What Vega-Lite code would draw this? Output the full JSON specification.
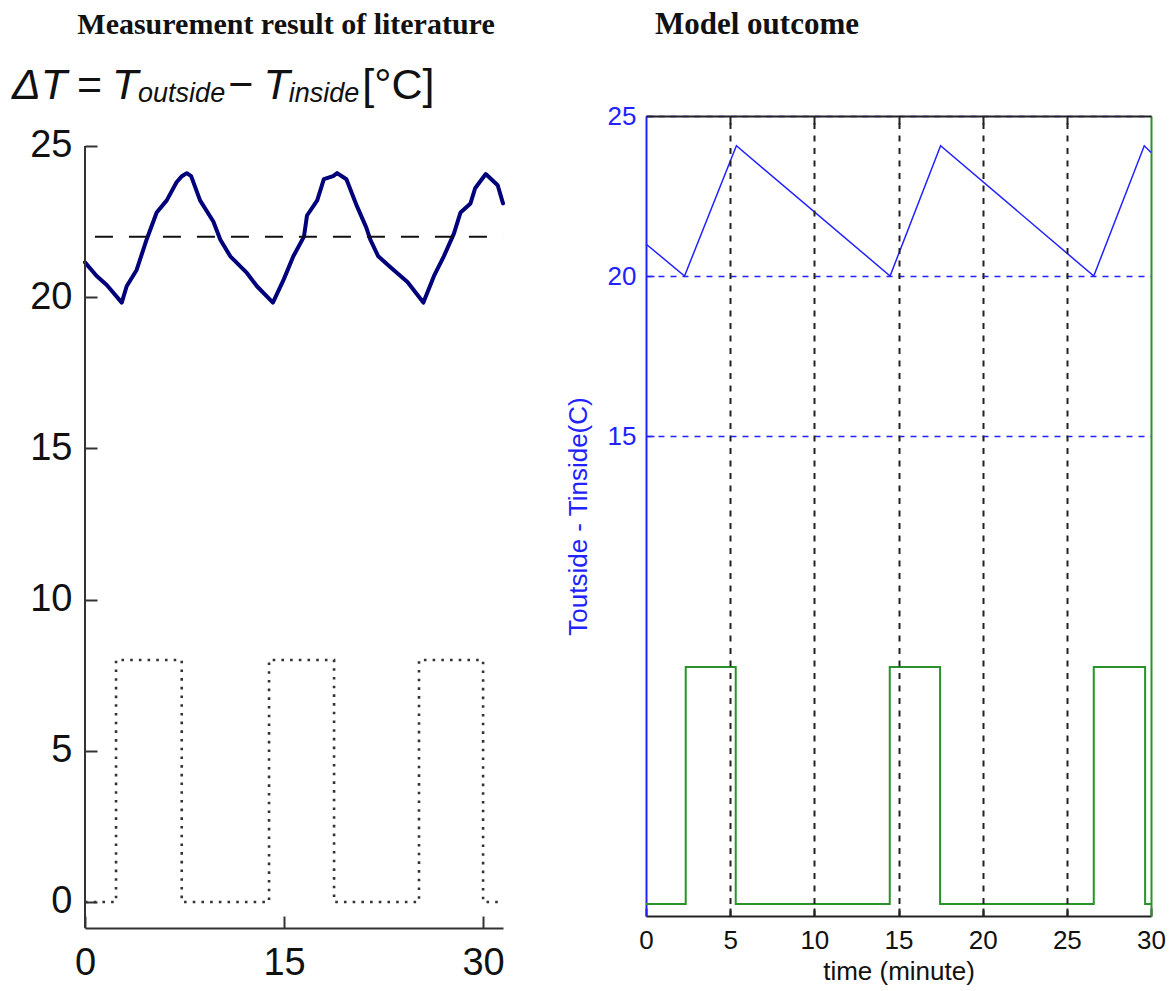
{
  "$schema": "https://vega.github.io/schema/vega-lite/v6.json",
  "background": "white",
  "padding": {"left": 12, "top": 9, "right": 6, "bottom": 2},
  "config": {"view": {"stroke": null}, "font": "Liberation Sans"},
  "spacing": 56,
  "hconcat": [
    {
      "width": 418,
      "height": 812,
      "title": {"text": "Measurement result of literature", "font": "Liberation Serif", "fontSize": 30, "fontWeight": "bold", "color": "#111", "frame": "group", "anchor": "middle", "dx": -8, "offset": 25},
      "layer": [
        {
          "data": {"values": [
            {"t": 0, "v": 21.15}, {"t": 0.88, "v": 20.7}, {"t": 1.64, "v": 20.4}, {"t": 2.77, "v": 19.82},
            {"t": 3.14, "v": 20.36}, {"t": 3.89, "v": 20.9}, {"t": 4.64, "v": 21.9}, {"t": 5.4, "v": 22.8},
            {"t": 6.16, "v": 23.2}, {"t": 6.9, "v": 23.8}, {"t": 7.3, "v": 24.0}, {"t": 7.67, "v": 24.1},
            {"t": 8.0, "v": 24.0}, {"t": 8.67, "v": 23.2}, {"t": 9.67, "v": 22.5}, {"t": 10.2, "v": 21.9},
            {"t": 10.95, "v": 21.35}, {"t": 12.2, "v": 20.8}, {"t": 12.96, "v": 20.36}, {"t": 14.16, "v": 19.82},
            {"t": 14.97, "v": 20.58}, {"t": 15.7, "v": 21.35}, {"t": 16.5, "v": 22.0}, {"t": 16.73, "v": 22.7},
            {"t": 17.5, "v": 23.2}, {"t": 18.0, "v": 23.9}, {"t": 18.7, "v": 24.0}, {"t": 19.0, "v": 24.1},
            {"t": 19.7, "v": 23.9}, {"t": 20.5, "v": 23.0}, {"t": 21.2, "v": 22.3}, {"t": 21.5, "v": 21.9},
            {"t": 22.1, "v": 21.35}, {"t": 23.0, "v": 21.0}, {"t": 24.3, "v": 20.5}, {"t": 25.5, "v": 19.82},
            {"t": 26.3, "v": 20.7}, {"t": 27.04, "v": 21.35}, {"t": 27.8, "v": 22.1}, {"t": 28.3, "v": 22.8},
            {"t": 29.05, "v": 23.1}, {"t": 29.4, "v": 23.6}, {"t": 30.2, "v": 24.07}, {"t": 31.1, "v": 23.7},
            {"t": 31.5, "v": 23.1}
          ]},
          "mark": {"type": "line", "color": "#00007a", "strokeWidth": 4, "strokeJoin": "round", "strokeCap": "round"},
          "encoding": {
            "x": {"field": "t", "type": "quantitative", "scale": {"domain": [0, 31.5], "nice": false, "zero": false},
              "axis": {"values": [0, 15, 30], "title": null, "grid": false, "labelFont": "Liberation Sans", "labelFontSize": 38, "labelColor": "#111", "labelFlush": false, "labelPadding": 28, "tickSize": -12, "tickWidth": 2, "tickColor": "#333", "domainColor": "#333", "domainWidth": 2}},
            "y": {"field": "v", "type": "quantitative", "scale": {"domain": [-0.86, 25.99], "nice": false, "zero": false},
              "axis": {"values": [0, 5, 10, 15, 20, 25], "title": null, "grid": false, "domain": false, "labelFont": "Liberation Sans", "labelFontSize": 38, "labelColor": "#111", "labelPadding": 25, "tickSize": -12, "tickWidth": 2, "tickColor": "#333"}}
          }
        },
        {
          "data": {"values": [{}]},
          "mark": {"type": "rule", "color": "#333", "strokeWidth": 2},
          "encoding": {
            "x": {"datum": 0, "type": "quantitative"},
            "y": {"datum": -0.86, "type": "quantitative"},
            "y2": {"datum": 25}
          }
        },
        {
          "data": {"values": [{"t": 0.75, "v": 22}, {"t": 31.5, "v": 22}]},
          "mark": {"type": "line", "color": "#111", "strokeWidth": 2, "strokeDash": [18, 16]},
          "encoding": {
            "x": {"field": "t", "type": "quantitative"},
            "y": {"field": "v", "type": "quantitative"}
          }
        },
        {
          "data": {"values": [
            {"t": 0, "v": 0}, {"t": 2.34, "v": 8}, {"t": 7.29, "v": 0}, {"t": 13.87, "v": 8},
            {"t": 18.77, "v": 0}, {"t": 25.17, "v": 8}, {"t": 30.0, "v": 0}, {"t": 31.5, "v": 0}
          ]},
          "mark": {"type": "line", "interpolate": "step-after", "color": "#333", "strokeWidth": 2.6, "strokeDash": [2.6, 6.1]},
          "encoding": {
            "x": {"field": "t", "type": "quantitative"},
            "y": {"field": "v", "type": "quantitative"}
          }
        },
        {
          "data": {"values": [{}]},
          "mark": {"type": "text", "text": "ΔT", "font": "Liberation Sans", "fontSize": 43, "fontStyle": "italic", "align": "left", "baseline": "alphabetic", "color": "#111"},
          "encoding": {"x": {"datum": -5.5, "type": "quantitative"}, "y": {"datum": 26.56, "type": "quantitative"}}
        },
        {
          "data": {"values": [{}]},
          "mark": {"type": "text", "text": "=", "font": "Liberation Sans", "fontSize": 43, "align": "left", "baseline": "alphabetic", "color": "#111"},
          "encoding": {"x": {"datum": -0.6, "type": "quantitative"}, "y": {"datum": 26.56, "type": "quantitative"}}
        },
        {
          "data": {"values": [{}]},
          "mark": {"type": "text", "text": "T", "font": "Liberation Sans", "fontSize": 43, "fontStyle": "italic", "align": "left", "baseline": "alphabetic", "color": "#111"},
          "encoding": {"x": {"datum": 2.03, "type": "quantitative"}, "y": {"datum": 26.56, "type": "quantitative"}}
        },
        {
          "data": {"values": [{}]},
          "mark": {"type": "text", "text": "outside", "font": "Liberation Sans", "fontSize": 27, "fontStyle": "italic", "align": "left", "baseline": "alphabetic", "color": "#111"},
          "encoding": {"x": {"datum": 4.0, "type": "quantitative"}, "y": {"datum": 26.46, "type": "quantitative"}}
        },
        {
          "data": {"values": [{}]},
          "mark": {"type": "text", "text": "−", "font": "Liberation Sans", "fontSize": 43, "align": "left", "baseline": "alphabetic", "color": "#111"},
          "encoding": {"x": {"datum": 10.8, "type": "quantitative"}, "y": {"datum": 26.56, "type": "quantitative"}}
        },
        {
          "data": {"values": [{}]},
          "mark": {"type": "text", "text": "T", "font": "Liberation Sans", "fontSize": 43, "fontStyle": "italic", "align": "left", "baseline": "alphabetic", "color": "#111"},
          "encoding": {"x": {"datum": 13.45, "type": "quantitative"}, "y": {"datum": 26.56, "type": "quantitative"}}
        },
        {
          "data": {"values": [{}]},
          "mark": {"type": "text", "text": "inside", "font": "Liberation Sans", "fontSize": 27, "fontStyle": "italic", "align": "left", "baseline": "alphabetic", "color": "#111"},
          "encoding": {"x": {"datum": 15.35, "type": "quantitative"}, "y": {"datum": 26.46, "type": "quantitative"}}
        },
        {
          "data": {"values": [{}]},
          "mark": {"type": "text", "text": "[°C]", "font": "Liberation Sans", "fontSize": 43, "align": "left", "baseline": "alphabetic", "color": "#111"},
          "encoding": {"x": {"datum": 20.9, "type": "quantitative"}, "y": {"datum": 26.56, "type": "quantitative"}}
        }
      ]
    },
    {
      "width": 505,
      "height": 800,
      "title": {"text": "Model outcome", "font": "Liberation Serif", "fontSize": 31, "fontWeight": "bold", "color": "#111", "frame": "group", "anchor": "start", "dx": 9, "offset": 62},
      "resolve": {"scale": {"y": "independent"}, "axis": {"x": "independent"}},
      "layer": [
        {
          "data": {"values": [
            {"t": 0, "v": 21.0}, {"t": 2.29, "v": 20.0}, {"t": 5.37, "v": 24.07}, {"t": 14.5, "v": 20.0},
            {"t": 17.5, "v": 24.07}, {"t": 26.6, "v": 20.0}, {"t": 29.6, "v": 24.07}, {"t": 30, "v": 23.86}
          ]},
          "mark": {"type": "line", "color": "#2222ff", "strokeWidth": 1.5},
          "encoding": {
            "x": {"field": "t", "type": "quantitative", "scale": {"domain": [0, 30], "nice": false, "zero": false},
              "axis": {"orient": "bottom", "values": [0, 5, 10, 15, 20, 25, 30], "title": "time (minute)", "titleFont": "Liberation Sans", "titleFontSize": 26, "titleFontWeight": "normal", "titleColor": "#111", "titlePadding": 5, "grid": false, "labelFont": "Liberation Sans", "labelFontSize": 26, "labelColor": "#111", "labelFlush": false, "labelPadding": 19, "tickSize": -8, "tickWidth": 2, "tickColor": "#222", "domainColor": "#222", "domainWidth": 2}},
            "y": {"field": "v", "type": "quantitative", "scale": {"domain": [0, 25], "nice": false, "zero": false},
              "axis": {"orient": "left", "values": [15, 20, 25], "title": "Toutside - Tinside(C)", "titleFont": "Liberation Sans", "titleFontSize": 26, "titleFontWeight": "normal", "titleColor": "#2222ff", "titlePadding": 16, "labelFont": "Liberation Sans", "labelFontSize": 26, "labelColor": "#2222ff", "labelPadding": 18, "tickSize": -8, "tickWidth": 1.5, "tickColor": "#2222ff", "domainColor": "#2222ff", "domainWidth": 2, "grid": true, "gridColor": "#2222ff", "gridDash": [6, 6], "gridWidth": 1.5}}
          }
        },
        {
          "data": {"values": [
            {"t": 0, "v": 0.375}, {"t": 2.36, "v": 7.78}, {"t": 5.33, "v": 0.375}, {"t": 14.48, "v": 7.78},
            {"t": 17.47, "v": 0.375}, {"t": 26.6, "v": 7.78}, {"t": 29.65, "v": 0.375}, {"t": 30, "v": 0.375}
          ]},
          "mark": {"type": "line", "interpolate": "step-after", "color": "#2a922a", "strokeWidth": 2},
          "encoding": {
            "x": {"field": "t", "type": "quantitative", "scale": {"domain": [0, 30], "nice": false, "zero": false},
              "axis": {"orient": "top", "values": [5, 10, 15, 20, 25], "labels": false, "title": null, "zindex": 1, "tickSize": -8, "tickWidth": 2, "tickColor": "#222", "domainColor": "#222", "domainWidth": 2, "grid": true, "gridColor": "#222", "gridDash": [6, 6.5], "gridWidth": 2}},
            "y": {"field": "v", "type": "quantitative", "scale": {"domain": [0, 25], "nice": false, "zero": false},
              "axis": {"orient": "right", "labels": false, "ticks": false, "title": null, "grid": false, "domainColor": "#2a922a", "domainWidth": 2}}
          }
        }
      ]
    }
  ]
}
